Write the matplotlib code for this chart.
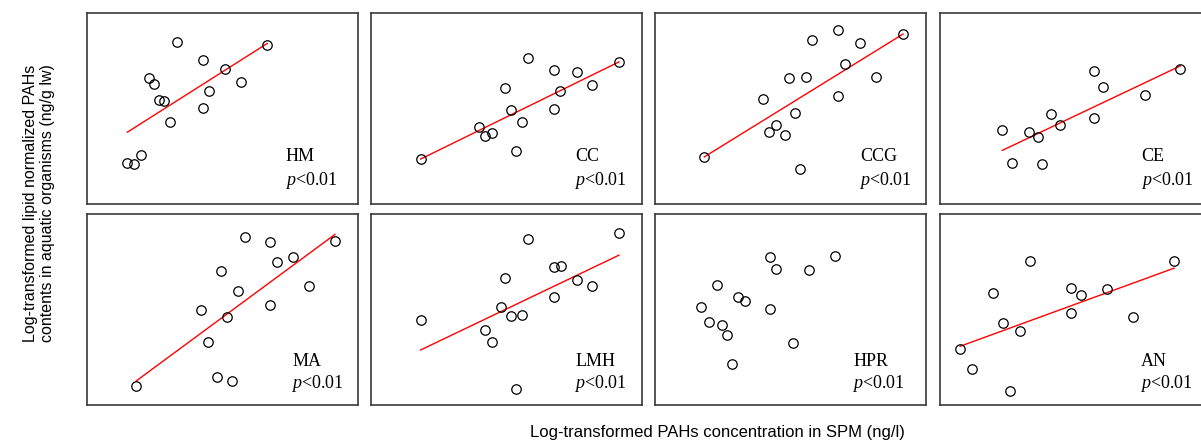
import numpy as np
import matplotlib.pyplot as plt

plt.rcParams['mathtext.fontset'] = 'custom'
plt.rcParams['mathtext.it'] = 'Liberation Serif:italic'
plt.rcParams['mathtext.rm'] = 'Liberation Serif'

names = ['HM', 'CC', 'CCG', 'CE', 'MA', 'LMH', 'HPR', 'AN']

# log PAHs in SPM (x) and log lipid-normalized PAHs in organisms (y), arbitrary 0-10 scale
hm_x = [3.31, 4.27, 6.65, 5.11, 5.69, 2.30, 2.46, 4.50, 2.67, 2.84, 4.27, 3.07, 1.98, 1.49, 1.72]
hm_y = [8.48, 7.53, 8.34, 7.09, 6.39, 6.62, 6.27, 5.94, 5.47, 5.40, 5.02, 4.30, 2.56, 2.16, 2.11]

cc_x = [5.81, 6.76, 7.59, 9.15, 4.96, 8.17, 6.99, 5.17, 6.74, 5.58, 3.98, 4.20, 4.48, 5.34, 1.83]
cc_y = [7.67, 7.02, 6.92, 7.44, 6.08, 6.25, 5.91, 4.90, 5.00, 4.29, 4.02, 3.55, 3.71, 2.79, 2.35]

ccg_x = [6.76, 5.80, 7.58, 9.15, 7.00, 4.95, 5.58, 8.17, 3.98, 6.74, 5.17, 4.47, 4.21, 4.79, 1.82, 5.34]
ccg_y = [9.09, 8.61, 8.43, 8.90, 7.32, 6.60, 6.66, 6.67, 5.49, 5.64, 4.77, 4.11, 3.75, 3.59, 2.47, 1.83]

ce_x = [5.70, 6.01, 8.87, 7.57, 4.10, 4.43, 5.68, 2.30, 3.29, 3.60, 2.67, 3.78]
ce_y = [6.97, 6.10, 7.09, 5.71, 4.69, 4.11, 4.49, 3.87, 3.75, 3.50, 2.14, 2.07]

ma_x = [5.83, 6.76, 9.15, 7.00, 7.61, 4.95, 5.59, 8.19, 4.21, 6.75, 5.18, 4.48, 4.79, 5.34, 1.82]
ma_y = [8.77, 8.53, 8.58, 7.51, 7.75, 7.02, 5.98, 6.21, 5.00, 5.26, 4.61, 3.32, 1.49, 1.26, 1.00]

lmh_x = [5.81, 9.15, 6.74, 7.00, 4.96, 7.59, 8.17, 6.74, 4.79, 5.17, 5.59, 1.83, 4.21, 4.48, 5.34]
lmh_y = [8.67, 9.02, 7.21, 7.28, 6.63, 6.54, 6.25, 5.65, 5.11, 4.67, 4.70, 4.47, 3.93, 3.30, 0.82]

hpr_x = [4.26, 6.65, 4.48, 5.69, 2.30, 3.06, 3.32, 4.25, 1.71, 1.98, 2.46, 2.67, 5.10, 2.83]
hpr_y = [7.75, 7.79, 7.14, 7.07, 6.30, 5.67, 5.44, 5.02, 5.12, 4.35, 4.18, 3.67, 3.26, 2.16]

an_x = [3.33, 8.64, 1.95, 4.82, 5.21, 6.18, 4.82, 7.11, 2.31, 2.95, 0.74, 1.19, 2.57]
an_y = [7.56, 7.54, 5.86, 6.14, 5.77, 6.09, 4.82, 4.63, 4.28, 3.88, 2.91, 1.89, 0.75]

# fitted lines (None = no line shown)
slopes = [0.90, 0.695, 0.877, 0.673, 1.046, 0.678, None, 0.518]
intercepts = [2.42, 1.08, 0.87, 1.26, -0.64, 1.64, None, 2.69]

xs = [hm_x, cc_x, ccg_x, ce_x, ma_x, lmh_x, hpr_x, an_x]
ys = [hm_y, cc_y, ccg_y, ce_y, ma_y, lmh_y, hpr_y, an_y]

W, H = 1201, 443
fig = plt.figure(figsize=(W / 100, H / 100), dpi=100)

lefts = [87, 371, 655, 940]
tops = [13, 214]
pw, ph = 271, 191
label_x = [0.733, 0.754, 0.757, 0.744, 0.757, 0.754, 0.732, 0.742]

for i, name in enumerate(names):
    r, c = divmod(i, 4)
    ax = fig.add_axes([lefts[c] / W, 1 - (tops[r] + ph) / H, pw / W, ph / H])
    x = np.array(xs[i])
    y = np.array(ys[i])
    if slopes[i] is not None:
        xx = np.array([x.min(), x.max()])
        ax.plot(xx, slopes[i] * xx + intercepts[i], color='red', lw=1.0, zorder=2)
    ax.plot(x, y, 'o', ms=6.8, mfc='none', mec='black', mew=0.9, zorder=3)
    ax.set_xlim(0, 10)
    ax.set_ylim(0, 10)
    ax.set_xticks([])
    ax.set_yticks([])
    for s in ax.spines.values():
        s.set_color('#3a3a3a')
        s.set_linewidth(1.2)
    ly = 0.247 if r == 0 else 0.226
    py = 0.125 if r == 0 else 0.112
    ax.text(label_x[i], ly, name, transform=ax.transAxes, fontsize=13,
            family='Liberation Serif', va='center', ha='left')
    ax.text(label_x[i] - 0.004, py, r'$p$<0.01', transform=ax.transAxes,
            fontsize=13, family='Liberation Serif', va='center', ha='left')

fig.text(717 / W, 1 - 433 / H, 'Log-transformed PAHs concentration in SPM (ng/l)',
         ha='center', va='center', fontsize=12, family='Liberation Sans')
fig.text(39 / W, 1 - 203 / H,
         'Log-transformed lipid normalized PAHs\ncontents in aquatic organisms (ng/g lw)',
         ha='center', va='center', rotation=90, fontsize=11.5,
         family='Liberation Sans', linespacing=1.15)

fig.savefig('out.png', dpi=100)
